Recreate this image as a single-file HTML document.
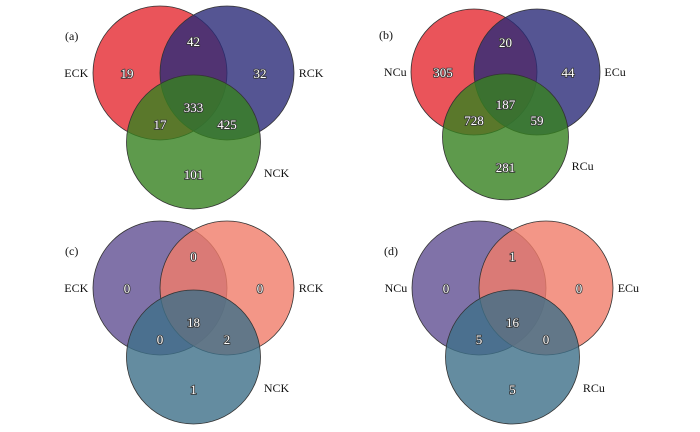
<!DOCTYPE html>
<html><head><meta charset="utf-8"><style>
html,body{margin:0;padding:0;background:#fff;}
svg{display:block;}
text{font-family:"Liberation Serif",serif;}
</style></head><body>
<svg id="chart" width="700" height="432" viewBox="0 0 700 432"></svg>
<script>
// Panel data (regions: Aonly, Bonly, AB, ABC, AC, BC, Conly)
const panelLetters = ["(a)", "(b)", "(c)", "(d)"];
const setNamesA = ["ECK", "RCK", "NCK"];
const setNamesB = ["NCu", "ECu", "RCu"];
const setNamesC = ["ECK", "RCK", "NCK"];
const setNamesD = ["NCu", "ECu", "RCu"];
const countsA = [19, 32, 42, 333, 17, 425, 101];
const countsB = [305, 44, 20, 187, 728, 59, 281];
const countsC = [0, 0, 0, 18, 0, 2, 1];
const countsD = [0, 0, 1, 16, 5, 0, 5];

const svg = document.getElementById('chart');
const NS = 'http://www.w3.org/2000/svg';
const layouts = [
  {cx:160, cy:73, r:67, cols:['rgb(229,41,49)','rgb(42,42,120)','rgb(54,129,31)'], names:setNamesA, counts:countsA},
  {cx:474, cy:72, r:63, cols:['rgb(229,41,49)','rgb(42,42,120)','rgb(54,129,31)'], names:setNamesB, counts:countsB},
  {cx:160, cy:288, r:67, cols:['rgb(96,79,146)','rgb(240,124,105)','rgb(61,111,136)'], names:setNamesC, counts:countsC},
  {cx:479, cy:288, r:67, cols:['rgb(96,79,146)','rgb(240,124,105)','rgb(61,111,136)'], names:setNamesD, counts:countsD}
];
const ids = ['a','b','c','d'];
layouts.forEach((p, i) => {
  const g = document.createElementNS(NS, 'g');
  
  
  svg.appendChild(g);
  const s = p.r / 67;
  const d = p.r;
  const centers = [[p.cx, p.cy], [p.cx + d, p.cy], [p.cx + d / 2, p.cy + d * 1.03]];
  centers.forEach((c, k) => {
    const ci = document.createElementNS(NS, 'circle');
    
    
    ci.setAttribute('cx', c[0]); ci.setAttribute('cy', c[1]); ci.setAttribute('r', p.r);
    ci.setAttribute('fill', p.cols[k]); ci.setAttribute('fill-opacity', '0.8');
    ci.setAttribute('stroke', '#333'); ci.setAttribute('stroke-width', '0.8');
    g.appendChild(ci);
  });
  const mid = p.cx + d / 2;
  const pos = [
    [p.cx - 33 * s, p.cy], [p.cx + d + 33 * s, p.cy], [mid, p.cy - 32 * s],
    [mid, p.cy + 34 * s], [p.cx, p.cy + 51 * s], [p.cx + d, p.cy + 51 * s],
    [mid, centers[2][1] + 32 * s]
  ];
  p.counts.forEach((v, k) => {
    const t = document.createElementNS(NS, 'text');
    
    
    t.setAttribute('x', pos[k][0]); t.setAttribute('y', pos[k][1] + 5);
    t.setAttribute('text-anchor', 'middle'); t.setAttribute('font-size', '13');
    t.setAttribute('fill', '#fff'); t.setAttribute('stroke', '#333');
    t.setAttribute('stroke-width', '1.6'); t.setAttribute('paint-order', 'stroke');
    t.textContent = v;
    g.appendChild(t);
  });
  const labs = [
    [p.cx - d * 1.07, p.cy + 4, 'end'],
    [p.cx + d * 2.07, p.cy + 4, 'start'],
    [p.cx + d * 1.55, centers[2][1] + 35 * s, 'start']
  ];
  labs.forEach((l, k) => {
    const t = document.createElementNS(NS, 'text');
    
    
    t.setAttribute('x', l[0]); t.setAttribute('y', l[1]);
    t.setAttribute('text-anchor', l[2]); t.setAttribute('font-size', '12');
    t.setAttribute('fill', '#111');
    t.textContent = p.names[k];
    g.appendChild(t);
  });
  const pl = document.createElementNS(NS, 'text');
  
  
  pl.setAttribute('x', p.cx - 95); pl.setAttribute('y', p.cy - 33);
  pl.setAttribute('font-size', '12'); pl.setAttribute('fill', '#111');
  pl.textContent = panelLetters[i];
  g.appendChild(pl);
});
</script>
</body></html>
